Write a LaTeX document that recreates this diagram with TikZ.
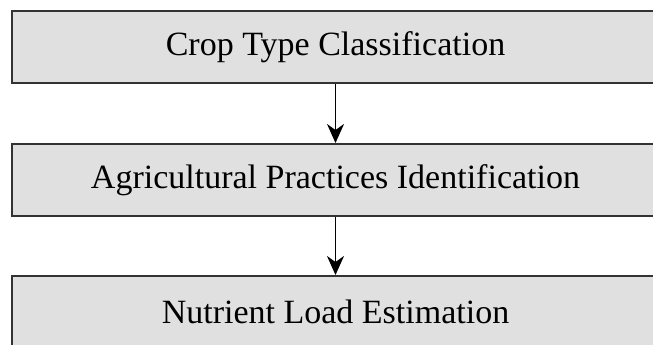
\documentclass[tikz,border=0pt]{standalone}
\usepackage{fontspec}
\setmainfont{Liberation Serif}
\usetikzlibrary{arrows.meta}
\begin{document}
\begin{tikzpicture}[x=1pt,y=-1pt,
  stagebox/.style={draw=black!80, line width=2pt, fill=black!12,
    minimum width=648pt, minimum height=72pt, inner sep=0pt,
    font=\fontsize{34}{40}\selectfont},
  flowarrow/.style={draw=black, line width=1.5pt,
    -{Stealth[length=19pt,width=17pt,inset=6pt]}}]
  \useasboundingbox (0,0) rectangle (653,345);
  \node[stagebox] (crop) at (335.5,47) {Crop Type Classification};
  \node[stagebox] (prac) at (335.5,180) {Agricultural Practices Identification};
  \node[stagebox] (nutr) at (335.5,312) {Nutrient Load Estimation};
  \draw[flowarrow] (crop.south) -- (prac.north);
  \draw[flowarrow] (prac.south) -- (nutr.north);
\end{tikzpicture}
\end{document}
